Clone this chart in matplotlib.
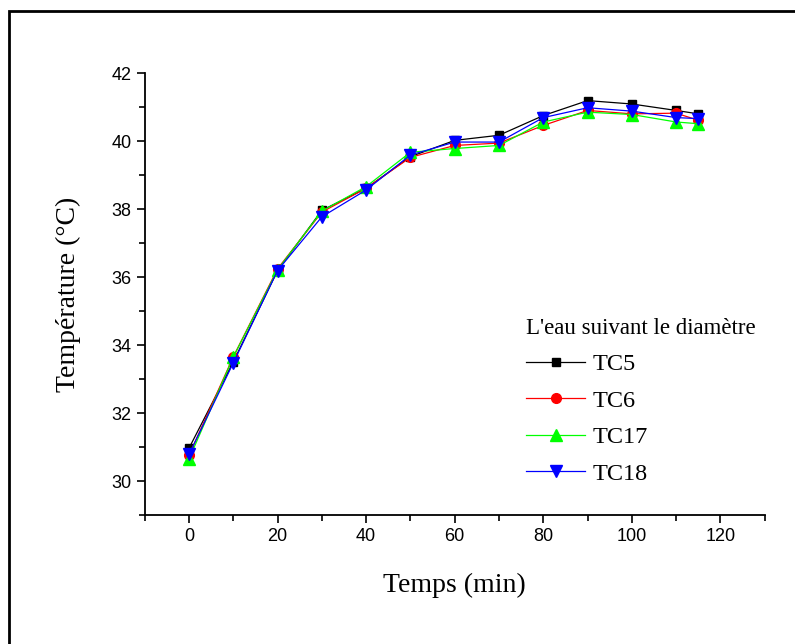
import matplotlib.pyplot as plt
from matplotlib.patches import Rectangle
from matplotlib.ticker import MultipleLocator

# Temperature of the water along the diameter
temps = [0, 10, 20, 30, 40, 50, 60, 70, 80, 90, 100, 110, 115]
tc5 = [30.97, 33.51, 36.20, 37.97, 38.62, 39.55, 40.03, 40.18, 40.76, 41.20, 41.10, 40.91, 40.81]
tc6 = [30.76, 33.66, 36.25, 37.92, 38.62, 39.53, 39.88, 39.95, 40.47, 40.91, 40.81, 40.83, 40.62]
tc17 = [30.65, 33.65, 36.22, 37.95, 38.67, 39.68, 39.79, 39.88, 40.57, 40.86, 40.79, 40.57, 40.52]
tc18 = [30.79, 33.48, 36.20, 37.78, 38.57, 39.60, 39.98, 39.98, 40.70, 40.99, 40.89, 40.70, 40.67]

series = [
    ("TC5", tc5, "black", "s", 6),
    ("TC6", tc6, "red", "o", 7),
    ("TC17", tc17, "#00ff00", "^", 8.5),
    ("TC18", tc18, "blue", "v", 8.5),
]

fig = plt.figure(figsize=(7.95, 6.44), dpi=100)
ax = fig.add_axes([0.182, 0.2, 0.78, 0.686])

for name, vals, col, mk, ms in series:
    ax.plot(temps, vals, color=col, marker=mk, markersize=ms, lw=0.9, label=name)

ax.set_xlim(-10, 130)
ax.set_ylim(29, 42)
ax.xaxis.set_major_locator(MultipleLocator(20))
ax.xaxis.set_minor_locator(MultipleLocator(10))
ax.yaxis.set_major_locator(MultipleLocator(2))
ax.yaxis.set_minor_locator(MultipleLocator(1))
ax.tick_params(which="major", direction="out", length=6, width=1.2, labelsize=13)
ax.tick_params(which="minor", direction="out", length=4, width=1.2)
for lbl in ax.get_xticklabels() + ax.get_yticklabels():
    lbl.set_fontfamily("Liberation Sans")

for side in ("top", "right"):
    ax.spines[side].set_visible(False)
for side in ("left", "bottom"):
    ax.spines[side].set_linewidth(1.3)

ax.set_xlabel("Temps (min)", fontfamily="Liberation Serif", fontsize=20, labelpad=20)
ax.set_ylabel("Température (°C)", fontfamily="Liberation Serif", fontsize=20, labelpad=22)

leg = ax.legend(title="L'eau suivant le diamètre", loc="upper left",
                bbox_to_anchor=(0.6, 0.468), frameon=False,
                prop={"family": "Liberation Serif", "size": 17.5},
                handlelength=2.4, handletextpad=0.3, labelspacing=0.6,
                borderaxespad=0)
leg.get_title().set_fontfamily("Liberation Serif")
leg.get_title().set_fontsize(16.5)
leg._legend_box.align = "left"
leg._legend_box.sep = 10

# outer frame around the figure (cut at right and bottom)
fig.add_artist(Rectangle((0.011, -0.2), 1.3, 1.183, transform=fig.transFigure,
                         fill=False, lw=2, edgecolor="black"))

fig.savefig("out.png", dpi=100)
